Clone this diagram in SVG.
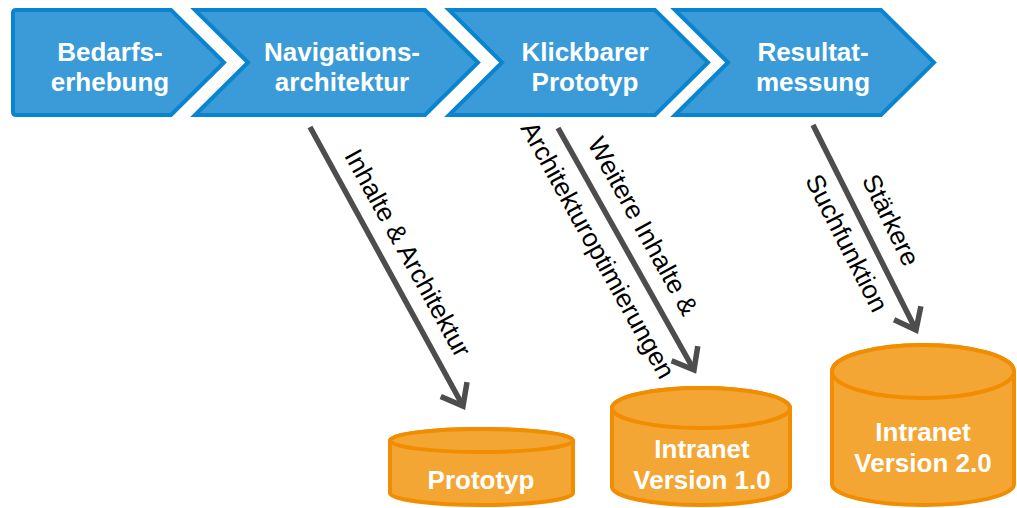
<svg xmlns="http://www.w3.org/2000/svg" width="1017" height="508" viewBox="0 0 1017 508">
  <defs>
    <style>
      .chev { fill: #3A9BD8; stroke: #0A84CE; stroke-width: 4; stroke-linejoin: miter; }
      .cyl { fill: #F4A634; stroke: #F18D00; stroke-width: 4; }
      .t { font-family: "Liberation Sans", Arial, sans-serif; font-weight: bold; font-size: 26px; fill: #FFFFFF; text-anchor: middle; }
      .lbl { font-family: "Liberation Sans", Arial, sans-serif; font-size: 26px; fill: #000000; text-anchor: middle; }
      .arr { fill: none; stroke: #4D4D4D; stroke-width: 5.5; }
    </style>
    <marker id="head" markerUnits="userSpaceOnUse" markerWidth="40" markerHeight="40" refX="0" refY="0" viewBox="-30 -20 40 40" orient="auto" overflow="visible">
      <path d="M -19,-15 L 0,0 L -19,15" fill="none" stroke="#4D4D4D" stroke-width="5.5" stroke-linejoin="miter"/>
    </marker>
  </defs>
  <rect width="1017" height="508" fill="#FFFFFF"/>

  <g id="step1">
    <path class="chev" d="M 16,10 L 171,10 L 224,62.5 L 171,115 L 16,115 Q 13,115 13,112 L 13,13 Q 13,10 16,10 Z"/>
    <text class="t" x="110" y="61">Bedarfs-</text>
    <text class="t" x="110" y="91">erhebung</text>
  </g>
  <g id="step2">
    <path class="chev" d="M 195,10 L 425,10 L 478,62.5 L 425,115 L 195,115 L 248,62.5 Z"/>
    <text class="t" x="342" y="61">Navigations-</text>
    <text class="t" x="342" y="91">architektur</text>
  </g>
  <g id="step3">
    <path class="chev" d="M 449,10 L 655,10 L 708,62.5 L 655,115 L 449,115 L 502,62.5 Z"/>
    <text class="t" x="585" y="61">Klickbarer</text>
    <text class="t" x="585" y="91">Prototyp</text>
  </g>
  <g id="step4">
    <path class="chev" d="M 675,10 L 881,10 L 934,62.5 L 881,115 L 675,115 L 728,62.5 Z"/>
    <text class="t" x="813" y="61">Resultat-</text>
    <text class="t" x="813" y="91">messung</text>
  </g>

  <g id="connectors">
    <line class="arr" x1="310" y1="127" x2="463" y2="406" marker-end="url(#head)"/>
    <line class="arr" x1="558" y1="128" x2="694" y2="370" marker-end="url(#head)"/>
    <line class="arr" x1="813" y1="125" x2="916" y2="330" marker-end="url(#head)"/>
    <text class="lbl" transform="translate(408,253) rotate(61)" y="9">Inhalte &amp; Architektur</text>
    <text class="lbl" transform="translate(643,226) rotate(61)" y="9">Weitere Inhalte &amp;</text>
    <text class="lbl" transform="translate(598,250) rotate(61)" y="9">Architekturoptimierungen</text>
    <text class="lbl" transform="translate(891,220) rotate(64)" y="9">Stärkere</text>
    <text class="lbl" transform="translate(847,243) rotate(63)" y="9">Suchfunktion</text>
  </g>

  <g id="cyl-prototyp">
    <path class="cyl" d="M 390,440.5 L 390,493 A 91.5,12 0 0 0 573,493 L 573,440.5 A 91.5,11.5 0 0 0 390,440.5 Z"/>
    <ellipse class="cyl" cx="481.5" cy="440.5" rx="91.5" ry="11.5"/>
    <text class="t" x="481" y="489">Prototyp</text>
  </g>
  <g id="cyl-v1">
    <path class="cyl" d="M 612,408 L 612,487 A 89,18 0 0 0 790,487 L 790,408 A 89,20 0 0 0 612,408 Z"/>
    <ellipse class="cyl" cx="701" cy="408" rx="89" ry="20"/>
    <text class="t" x="702" y="458">Intranet</text>
    <text class="t" x="702" y="489">Version 1.0</text>
  </g>
  <g id="cyl-v2">
    <path class="cyl" d="M 832,371.5 L 832,484 A 91,21 0 0 0 1014,484 L 1014,371.5 A 91,26.5 0 0 0 832,371.5 Z"/>
    <ellipse class="cyl" cx="923" cy="371.5" rx="91" ry="26.5"/>
    <text class="t" x="923" y="441">Intranet</text>
    <text class="t" x="923" y="472">Version 2.0</text>
  </g>
</svg>
